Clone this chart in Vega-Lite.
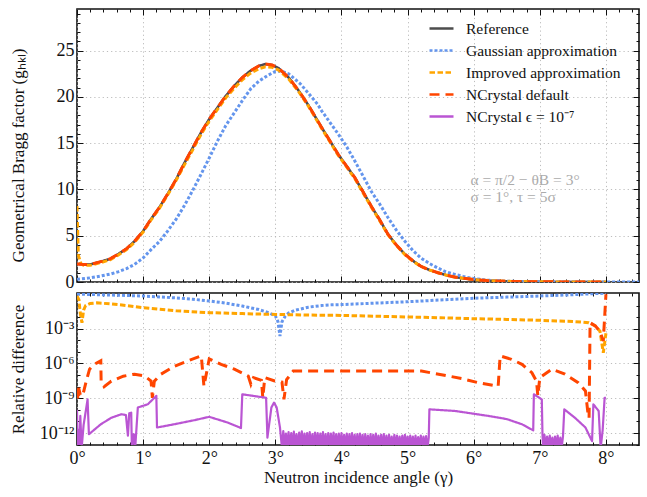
{
  "$schema": "https://vega.github.io/schema/vega-lite/v6.json",
  "padding": {"left": 8, "top": 7, "right": 9, "bottom": 4},
  "config": {
    "font": "Liberation Serif",
    "view": {"stroke": "#111", "strokeWidth": 1.6},
    "axis": {"domain": false, "labelFont": "Liberation Serif", "labelFontSize": 18, "labelColor": "#111", "titleFont": "Liberation Serif", "titleFontSize": 17, "titleFontWeight": "normal", "titleColor": "#111", "tickColor": "#111", "tickWidth": 1, "gridColor": "#b5b5b5", "gridDash": [1.2, 3], "gridWidth": 0.9, "labelFlush": false},
    "legend": {"orient": "none", "legendX": 351, "legendY": 6, "padding": 0, "symbolType": "stroke", "symbolSize": 576, "symbolStrokeWidth": 2.6, "labelFont": "Liberation Serif", "labelFontSize": 15.5, "labelColor": "#111", "labelOffset": 11, "rowPadding": -1.6, "labelLimit": 400}
  },
  "datasets": {
    "top_ref": [
      {"x":0,"g":1.95},{"x":0.1,"g":1.9},{"x":0.2,"g":1.9},{"x":0.36,"g":2.2},{"x":0.5,"g":2.5},{"x":0.62,"g":3.0},{"x":0.75,"g":3.6},{"x":0.87,"g":4.4},{"x":1.0,"g":5.5},{"x":1.12,"g":6.8},{"x":1.25,"g":8.1},{"x":1.37,"g":9.5},{"x":1.5,"g":11.1},{"x":1.62,"g":12.8},{"x":1.75,"g":14.5},{"x":1.88,"g":16.2},{"x":2.0,"g":17.6},{"x":2.13,"g":18.9},{"x":2.25,"g":20.1},{"x":2.38,"g":21.2},{"x":2.5,"g":22.1},{"x":2.62,"g":22.8},{"x":2.75,"g":23.35},{"x":2.85,"g":23.55},{"x":2.95,"g":23.45},{"x":3.05,"g":23.1},{"x":3.2,"g":22.1},{"x":3.35,"g":20.7},{"x":3.5,"g":19.1},{"x":3.6,"g":17.9},{"x":3.7,"g":16.7},{"x":3.83,"g":15.2},{"x":3.95,"g":13.8},{"x":4.08,"g":12.5},{"x":4.2,"g":11.3},{"x":4.33,"g":9.7},{"x":4.45,"g":8.2},{"x":4.58,"g":6.7},{"x":4.7,"g":5.2},{"x":4.83,"g":4.0},{"x":4.96,"g":3.0},{"x":5.08,"g":2.3},{"x":5.2,"g":1.7},{"x":5.33,"g":1.3},{"x":5.46,"g":1.0},{"x":5.58,"g":0.75},{"x":5.71,"g":0.54},{"x":5.84,"g":0.4},{"x":5.97,"g":0.29},{"x":6.2,"g":0.15},{"x":6.5,"g":0.07},{"x":7.0,"g":0.02},{"x":7.5,"g":0.005},{"x":8.0,"g":0.0}
    ],
    "top_imp": [
      {"x":0,"g":8.2},{"x":0.02,"g":2.9},{"x":0.06,"g":1.95},{"x":0.1,"g":1.8},{"x":0.2,"g":1.8},{"x":0.36,"g":2.1},{"x":0.5,"g":2.4},{"x":0.62,"g":2.9},{"x":0.75,"g":3.5},{"x":0.87,"g":4.3},{"x":1.0,"g":5.4},{"x":1.12,"g":6.7},{"x":1.25,"g":8.0},{"x":1.37,"g":9.4},{"x":1.5,"g":11.0},{"x":1.62,"g":12.6},{"x":1.75,"g":14.3},{"x":1.88,"g":16.0},{"x":2.0,"g":17.4},{"x":2.13,"g":18.7},{"x":2.25,"g":19.9},{"x":2.38,"g":20.95},{"x":2.5,"g":21.85},{"x":2.62,"g":22.55},{"x":2.75,"g":23.05},{"x":2.85,"g":23.25},{"x":2.95,"g":23.2},{"x":3.05,"g":22.9},{"x":3.2,"g":21.95},{"x":3.35,"g":20.6},{"x":3.5,"g":19.0},{"x":3.6,"g":17.8},{"x":3.7,"g":16.6},{"x":3.83,"g":15.1},{"x":3.95,"g":13.7},{"x":4.08,"g":12.4},{"x":4.2,"g":11.2},{"x":4.33,"g":9.6},{"x":4.45,"g":8.1},{"x":4.58,"g":6.6},{"x":4.7,"g":5.15},{"x":4.83,"g":3.95},{"x":4.96,"g":2.95},{"x":5.08,"g":2.25},{"x":5.2,"g":1.7},{"x":5.33,"g":1.3},{"x":5.46,"g":1.0},{"x":5.58,"g":0.75},{"x":5.71,"g":0.54},{"x":5.84,"g":0.4},{"x":5.97,"g":0.29},{"x":6.2,"g":0.15},{"x":6.5,"g":0.07},{"x":7.0,"g":0.02},{"x":7.5,"g":0.005},{"x":8.0,"g":0.0}
    ],
    "top_gau": [
      {"x":0,"g":0.29},{"x":0.2,"g":0.45},{"x":0.36,"g":0.65},{"x":0.5,"g":0.85},{"x":0.62,"g":1.1},{"x":0.75,"g":1.45},{"x":0.87,"g":1.9},{"x":1.0,"g":2.6},{"x":1.12,"g":3.5},{"x":1.25,"g":4.4},{"x":1.37,"g":5.5},{"x":1.5,"g":6.8},{"x":1.62,"g":8.2},{"x":1.75,"g":9.9},{"x":1.88,"g":11.7},{"x":2.0,"g":13.4},{"x":2.13,"g":15.3},{"x":2.25,"g":16.9},{"x":2.38,"g":18.3},{"x":2.5,"g":19.6},{"x":2.63,"g":20.9},{"x":2.75,"g":21.7},{"x":2.88,"g":22.3},{"x":3.0,"g":22.75},{"x":3.08,"g":22.8},{"x":3.2,"g":22.5},{"x":3.38,"g":21.4},{"x":3.5,"g":20.4},{"x":3.64,"g":19.2},{"x":3.7,"g":18.5},{"x":3.83,"g":17.2},{"x":3.95,"g":16.0},{"x":4.08,"g":14.6},{"x":4.2,"g":13.1},{"x":4.33,"g":11.4},{"x":4.45,"g":9.8},{"x":4.58,"g":8.4},{"x":4.7,"g":7.0},{"x":4.83,"g":5.6},{"x":4.96,"g":4.4},{"x":5.08,"g":3.4},{"x":5.2,"g":2.6},{"x":5.33,"g":2.0},{"x":5.46,"g":1.5},{"x":5.58,"g":1.1},{"x":5.71,"g":0.83},{"x":5.84,"g":0.6},{"x":5.97,"g":0.4},{"x":6.2,"g":0.2},{"x":6.5,"g":0.08},{"x":7.0,"g":0.02},{"x":7.5,"g":0.005},{"x":8.0,"g":0.001},{"x":8.5,"g":0.0}
    ],
    "bot_gau": [
      {"x":0,"d":0.95},{"x":0.25,"d":0.88},{"x":0.5,"d":0.8},{"x":0.75,"d":0.73},{"x":1.0,"d":0.66},{"x":1.25,"d":0.55},{"x":1.5,"d":0.45},{"x":1.75,"d":0.35},{"x":2.0,"d":0.25},{"x":2.25,"d":0.16},{"x":2.5,"d":0.09},{"x":2.75,"d":0.045},{"x":2.9,"d":0.024},{"x":3.0,"d":0.0126},{"x":3.04,"d":0.004},{"x":3.07,"d":0.00023},{"x":3.1,"d":0.004},{"x":3.15,"d":0.012},{"x":3.2,"d":0.022},{"x":3.3,"d":0.039},{"x":3.5,"d":0.072},{"x":3.7,"d":0.1},{"x":3.85,"d":0.115},{"x":4.0,"d":0.12},{"x":4.5,"d":0.16},{"x":5.0,"d":0.21},{"x":5.5,"d":0.3},{"x":6.0,"d":0.42},{"x":6.5,"d":0.53},{"x":7.0,"d":0.66},{"x":7.5,"d":0.85},{"x":7.8,"d":1.04},{"x":8.0,"d":1.15}
    ],
    "bot_imp": [
      {"x":0,"d":0.66},{"x":0.03,"d":0.3},{"x":0.05,"d":0.02},{"x":0.075,"d":0.0033},{"x":0.1,"d":0.04},{"x":0.13,"d":0.1},{"x":0.2,"d":0.15},{"x":0.3,"d":0.17},{"x":0.5,"d":0.14},{"x":0.75,"d":0.1},{"x":1.0,"d":0.065},{"x":1.5,"d":0.035},{"x":2.0,"d":0.024},{"x":2.5,"d":0.02},{"x":3.0,"d":0.017},{"x":3.5,"d":0.015},{"x":4.0,"d":0.014},{"x":4.5,"d":0.012},{"x":5.0,"d":0.0103},{"x":5.5,"d":0.0088},{"x":6.0,"d":0.0073},{"x":6.5,"d":0.0063},{"x":7.0,"d":0.0053},{"x":7.5,"d":0.0042},{"x":7.74,"d":0.0033},{"x":7.84,"d":0.0017},{"x":7.91,"d":0.0006},{"x":7.96,"d":0.0000085},{"x":8.0,"d":0.0004}
    ],
    "bot_ncd": [
      {"x":0,"d":5e-9},{"x":0.01,"d":1e-9},{"x":0.025,"d":8e-9},{"x":0.05,"d":2e-9},{"x":0.085,"d":1.6e-9},{"x":0.14,"d":3e-8},{"x":0.19,"d":3.2e-7},{"x":0.25,"d":8e-7},{"x":0.31,"d":1.2e-6},{"x":0.36,"d":1.7e-6},{"x":0.365,"d":3e-8},{"x":0.41,"d":1e-8},{"x":0.52,"d":3e-8},{"x":0.7,"d":8e-8},{"x":0.87,"d":1.2e-7},{"x":1.02,"d":8.3e-8},{"x":1.12,"d":3.1e-8},{"x":1.14,"d":1.1e-9},{"x":1.17,"d":3e-8},{"x":1.27,"d":1.2e-7},{"x":1.48,"d":6e-7},{"x":1.68,"d":1.7e-6},{"x":1.88,"d":4.5e-6},{"x":1.92,"d":1.1e-8},{"x":2.0,"d":2.5e-6},{"x":2.18,"d":8.5e-7},{"x":2.38,"d":3.2e-7},{"x":2.59,"d":8.3e-8},{"x":2.63,"d":1.6e-8},{"x":2.67,"d":6e-8},{"x":2.79,"d":3.5e-8},{"x":2.81,"d":1.1e-9},{"x":2.84,"d":6e-8},{"x":2.99,"d":3.1e-8},{"x":3.1,"d":2.5e-8},{"x":3.13,"d":8e-10},{"x":3.17,"d":4e-8},{"x":3.27,"d":2.2e-7},{"x":4.0,"d":2.2e-7},{"x":5.21,"d":2.2e-7},{"x":5.47,"d":1.2e-7},{"x":5.82,"d":5e-8},{"x":6.07,"d":2.2e-8},{"x":6.37,"d":1.1e-8},{"x":6.4,"d":4.5e-6},{"x":6.57,"d":2.3e-6},{"x":6.73,"d":8.5e-7},{"x":6.88,"d":1.6e-7},{"x":6.95,"d":3e-8},{"x":6.97,"d":1.6e-9},{"x":7.0,"d":6e-8},{"x":7.18,"d":3.2e-7},{"x":7.38,"d":1.2e-7},{"x":7.58,"d":2.2e-8},{"x":7.69,"d":4.3e-9},{"x":7.73,"d":4e-11},{"x":7.745,"d":2e-11},{"x":7.76,"d":3.3e-3},{"x":7.84,"d":1.7e-3},{"x":7.91,"d":6e-4},{"x":7.96,"d":8.7e-5},{"x":8.0,"d":0.93}
    ],
    "bot_eps": [
      {"x":0,"d":1e-10},{"x":0.01,"d":5e-14},{"x":0.02,"d":2e-12},{"x":0.035,"d":5e-14},{"x":0.05,"d":3e-11},{"x":0.07,"d":5e-14},{"x":0.1,"d":5e-12},{"x":0.16,"d":8e-10},{"x":0.18,"d":7.9e-13},{"x":0.36,"d":5.7e-12},{"x":0.52,"d":2.1e-11},{"x":0.67,"d":4.2e-11},{"x":0.74,"d":3.6e-11},{"x":0.77,"d":6e-13},{"x":0.79,"d":5e-11},{"x":0.82,"d":5.7e-11},{"x":0.83,"d":5e-14},{"x":0.86,"d":7.9e-13},{"x":0.88,"d":5e-14},{"x":0.92,"d":1.6e-10},{"x":1.07,"d":3e-10},{"x":1.2,"d":1.6e-9},{"x":1.21,"d":3e-12},{"x":1.47,"d":5.7e-12},{"x":1.78,"d":1.3e-11},{"x":2.0,"d":2.5e-11},{"x":2.28,"d":8e-12},{"x":2.48,"d":2.7e-12},{"x":2.5,"d":2.2e-9},{"x":2.86,"d":1.1e-9},{"x":2.88,"d":4e-13},{"x":2.9,"d":3e-12},{"x":2.94,"d":1.6e-10},{"x":2.98,"d":4.2e-10},{"x":3.02,"d":1.6e-10},{"x":3.07,"d":3e-12},{"x":3.1,"d":5e-14},
      {"x":3.12,"d":1.5e-12},{"x":3.14,"d":5e-14},{"x":3.16,"d":9e-13},{"x":3.18,"d":5e-14},{"x":3.2,"d":1.2e-12},{"x":3.22,"d":5e-14},{"x":3.24,"d":1e-12},{"x":3.26,"d":5e-14},{"x":3.28,"d":1.3e-12},{"x":3.3,"d":5e-14},{"x":3.32,"d":8e-13},{"x":3.34,"d":5e-14},{"x":3.36,"d":1.1e-12},{"x":3.38,"d":5e-14},{"x":3.4,"d":1.4e-12},{"x":3.42,"d":5e-14},{"x":3.44,"d":9e-13},{"x":3.46,"d":5e-14},{"x":3.48,"d":1e-12},{"x":3.5,"d":5e-14},{"x":3.52,"d":1.2e-12},{"x":3.54,"d":5e-14},{"x":3.56,"d":8e-13},{"x":3.58,"d":5e-14},{"x":3.6,"d":1.1e-12},{"x":3.62,"d":5e-14},{"x":3.64,"d":1e-12},{"x":3.66,"d":5e-14},{"x":3.68,"d":9e-13},{"x":3.7,"d":5e-14},{"x":3.72,"d":1.2e-12},{"x":3.74,"d":5e-14},{"x":3.76,"d":8e-13},{"x":3.78,"d":5e-14},{"x":3.8,"d":1e-12},{"x":3.82,"d":5e-14},{"x":3.84,"d":9e-13},{"x":3.86,"d":5e-14},{"x":3.88,"d":1.1e-12},{"x":3.9,"d":5e-14},{"x":3.92,"d":8e-13},{"x":3.94,"d":5e-14},{"x":3.96,"d":9e-13},{"x":3.98,"d":5e-14},{"x":4.0,"d":1e-12},{"x":4.02,"d":5e-14},{"x":4.04,"d":7e-13},{"x":4.06,"d":5e-14},{"x":4.08,"d":9e-13},{"x":4.1,"d":5e-14},{"x":4.12,"d":8e-13},{"x":4.14,"d":5e-14},{"x":4.16,"d":1e-12},{"x":4.18,"d":5e-14},{"x":4.2,"d":7e-13},{"x":4.22,"d":5e-14},{"x":4.24,"d":8e-13},{"x":4.26,"d":5e-14},{"x":4.28,"d":9e-13},{"x":4.3,"d":5e-14},{"x":4.32,"d":7e-13},{"x":4.34,"d":5e-14},{"x":4.36,"d":8e-13},{"x":4.38,"d":5e-14},{"x":4.4,"d":6e-13},{"x":4.42,"d":5e-14},{"x":4.44,"d":8e-13},{"x":4.46,"d":5e-14},{"x":4.48,"d":7e-13},{"x":4.5,"d":5e-14},{"x":4.52,"d":9e-13},{"x":4.54,"d":5e-14},{"x":4.56,"d":6e-13},{"x":4.58,"d":5e-14},{"x":4.6,"d":7e-13},{"x":4.62,"d":5e-14},{"x":4.64,"d":8e-13},{"x":4.66,"d":5e-14},{"x":4.68,"d":6e-13},{"x":4.7,"d":5e-14},{"x":4.72,"d":7e-13},{"x":4.74,"d":5e-14},{"x":4.76,"d":5e-13},{"x":4.78,"d":5e-14},{"x":4.8,"d":7e-13},{"x":4.82,"d":5e-14},{"x":4.84,"d":6e-13},{"x":4.86,"d":5e-14},{"x":4.88,"d":5e-13},{"x":4.9,"d":5e-14},{"x":4.92,"d":6e-13},{"x":4.94,"d":5e-14},{"x":4.96,"d":7e-13},{"x":4.98,"d":5e-14},{"x":5.0,"d":5e-13},{"x":5.02,"d":5e-14},{"x":5.04,"d":6e-13},{"x":5.06,"d":5e-14},{"x":5.08,"d":5e-13},{"x":5.1,"d":5e-14},{"x":5.12,"d":6e-13},{"x":5.14,"d":5e-14},{"x":5.16,"d":4.5e-13},{"x":5.18,"d":5e-14},{"x":5.2,"d":6e-13},{"x":5.22,"d":5e-14},{"x":5.24,"d":5e-13},{"x":5.26,"d":5e-14},{"x":5.28,"d":5.5e-13},{"x":5.3,"d":5e-14},{"x":5.32,"d":4e-13},
      {"x":5.33,"d":1.1e-10},{"x":5.72,"d":8e-11},{"x":6.22,"d":3e-11},{"x":6.5,"d":1.6e-11},{"x":6.73,"d":5.7e-12},{"x":6.9,"d":1.7e-12},{"x":6.91,"d":2.2e-9},{"x":7.03,"d":8e-10},{"x":7.04,"d":7.9e-13},{"x":7.05,"d":5e-14},{"x":7.07,"d":7e-13},{"x":7.09,"d":5e-14},{"x":7.11,"d":5e-13},{"x":7.13,"d":5e-14},{"x":7.15,"d":6e-13},{"x":7.17,"d":5e-14},{"x":7.19,"d":4e-13},{"x":7.21,"d":5e-14},{"x":7.23,"d":5e-13},{"x":7.25,"d":5e-14},{"x":7.27,"d":6e-13},{"x":7.29,"d":5e-14},{"x":7.31,"d":4e-13},{"x":7.33,"d":5e-14},{"x":7.35,"d":5e-13},{"x":7.37,"d":1.1e-10},{"x":7.53,"d":2.1e-11},{"x":7.69,"d":3e-12},{"x":7.79,"d":2e-13},{"x":7.81,"d":3e-10},{"x":7.89,"d":8e-11},{"x":7.92,"d":5e-14},{"x":7.95,"d":1.7e-12},{"x":7.98,"d":1.1e-9},{"x":8.0,"d":1.1e-9}
    ]
  },
  "resolve": {"scale": {"color": "independent", "strokeDash": "independent"}},
  "bounds": "flush",
  "spacing": 11,
  "vconcat": [
    {
      "width": 562,
      "height": 273,
      "resolve": {"axis": {"x": "independent", "y": "independent"}},
      "layer": [
        {
          "data": {"name": "top_ref"},
          "mark": {"type": "line", "clip": true, "strokeWidth": 2.2},
          "encoding": {
            "x": {"field": "x", "type": "quantitative", "scale": {"domain": [0, 8.5], "nice": false, "zero": false}, "axis": {"orient": "bottom", "values": [0,1,2,3,4,5,6,7,8], "labels": false, "grid": true, "tickSize": -6, "title": null}},
            "y": {"field": "g", "type": "quantitative", "scale": {"domain": [0, 29.5], "nice": false, "zero": false}, "axis": {"orient": "left", "values": [0,5,10,15,20,25], "grid": true, "tickSize": -6, "labelPadding": 9, "title": "Geometrical Bragg factor (gₕₖₗ)", "titleX": -59, "titleY": 146, "titleAngle": 270, "titleBaseline": "middle", "titleAlign": "center"}},
            "color": {"datum": "NCrystal ϵ = 10⁻⁷", "scale": {"domain": ["Reference", "Gaussian approximation", "Improved approximation", "NCrystal default", "NCrystal ϵ = 10⁻⁷"], "range": ["#4d4d4d", "#6495ed", "#ffa500", "#ff4500", "#ba55d3"]}, "legend": {"title": null}},
            "strokeDash": {"datum": "NCrystal ϵ = 10⁻⁷", "scale": {"domain": ["Reference", "Gaussian approximation", "Improved approximation", "NCrystal default", "NCrystal ϵ = 10⁻⁷"], "range": [[1, 0], [3, 2], [5.5, 2.5], [10, 6], [1, 0]]}, "legend": {"title": null}}
          }
        },
        {
          "data": {"name": "top_ref"},
          "mark": {"type": "line", "clip": true, "strokeWidth": 2.5},
          "encoding": {
            "x": {"field": "x", "type": "quantitative", "scale": {"domain": [0, 8.5], "nice": false, "zero": false}, "axis": {"orient": "top", "values": [0,1,2,3,4,5,6,7,8], "labels": false, "grid": false, "tickSize": -6, "title": null}},
            "y": {"field": "g", "type": "quantitative", "scale": {"domain": [0, 29.5], "nice": false, "zero": false}, "axis": {"orient": "right", "values": [0,5,10,15,20,25], "labels": false, "grid": false, "tickSize": -6, "title": null}},
            "color": {"datum": "Reference"},
            "strokeDash": {"datum": "Reference"}
          }
        },
        {
          "data": {"name": "top_gau"},
          "mark": {"type": "line", "clip": true, "strokeWidth": 3},
          "encoding": {
            "x": {"field": "x", "type": "quantitative", "scale": {"domain": [0, 8.5], "nice": false, "zero": false}, "axis": {"orient": "bottom", "values": [0.2,0.4,0.6,0.8,1.2,1.4,1.6,1.8,2.2,2.4,2.6,2.8,3.2,3.4,3.6,3.8,4.2,4.4,4.6,4.8,5.2,5.4,5.6,5.8,6.2,6.4,6.6,6.8,7.2,7.4,7.6,7.8,8.2,8.4], "labels": false, "grid": false, "tickSize": -3, "title": null}},
            "y": {"field": "g", "type": "quantitative", "scale": {"domain": [0, 29.5], "nice": false, "zero": false}, "axis": {"orient": "left", "values": [1,2,3,4,6,7,8,9,11,12,13,14,16,17,18,19,21,22,23,24,26,27,28,29], "labels": false, "grid": false, "tickSize": -3, "title": null}},
            "color": {"datum": "Gaussian approximation"},
            "strokeDash": {"datum": "Gaussian approximation"}
          }
        },
        {
          "data": {"name": "top_imp"},
          "mark": {"type": "line", "clip": true, "strokeWidth": 3},
          "encoding": {
            "x": {"field": "x", "type": "quantitative", "scale": {"domain": [0, 8.5], "nice": false, "zero": false}, "axis": {"orient": "top", "values": [0.2,0.4,0.6,0.8,1.2,1.4,1.6,1.8,2.2,2.4,2.6,2.8,3.2,3.4,3.6,3.8,4.2,4.4,4.6,4.8,5.2,5.4,5.6,5.8,6.2,6.4,6.6,6.8,7.2,7.4,7.6,7.8,8.2,8.4], "labels": false, "grid": false, "tickSize": -3, "title": null}},
            "y": {"field": "g", "type": "quantitative", "scale": {"domain": [0, 29.5], "nice": false, "zero": false}, "axis": {"orient": "right", "values": [1,2,3,4,6,7,8,9,11,12,13,14,16,17,18,19,21,22,23,24,26,27,28,29], "labels": false, "grid": false, "tickSize": -3, "title": null}},
            "color": {"datum": "Improved approximation"},
            "strokeDash": {"datum": "Improved approximation"}
          }
        },
        {
          "data": {"name": "top_ref"},
          "mark": {"type": "line", "clip": true, "strokeWidth": 3},
          "encoding": {
            "x": {"field": "x", "type": "quantitative", "scale": {"domain": [0, 8.5], "nice": false, "zero": false}, "axis": null},
            "y": {"field": "g", "type": "quantitative", "scale": {"domain": [0, 29.5], "nice": false, "zero": false}, "axis": null},
            "color": {"datum": "NCrystal default"},
            "strokeDash": {"datum": "NCrystal default"}
          }
        },
        {
          "data": {"values": [{"x": 5.95, "y": 11.0, "t": "α = π/2 − θB = 3°"}, {"x": 5.95, "y": 9.23, "t": "σ = 1°, τ = 5σ"}]},
          "mark": {"type": "text", "align": "left", "baseline": "middle", "fontSize": 15.5, "font": "Liberation Serif", "color": "#ababab"},
          "encoding": {
            "x": {"field": "x", "type": "quantitative", "scale": {"domain": [0, 8.5], "nice": false, "zero": false}, "axis": null},
            "y": {"field": "y", "type": "quantitative", "scale": {"domain": [0, 29.5], "nice": false, "zero": false}, "axis": null},
            "text": {"field": "t"}
          }
        }
      ]
    },
    {
      "width": 562,
      "height": 152,
      "resolve": {"axis": {"x": "independent", "y": "independent"}},
      "layer": [
        {
          "data": {"name": "bot_gau"},
          "mark": {"type": "line", "clip": true, "strokeWidth": 3},
          "encoding": {
            "x": {"field": "x", "type": "quantitative", "scale": {"domain": [0, 8.5], "nice": false, "zero": false}, "axis": {"orient": "bottom", "values": [0,1,2,3,4,5,6,7,8], "labelExpr": "datum.value + '°'", "grid": true, "tickSize": -6, "labelPadding": 10, "title": "Neutron incidence angle (γ)", "titlePadding": 2}},
            "y": {"field": "d", "type": "quantitative", "scale": {"type": "log", "domain": [9.3e-14, 1.2], "nice": false}, "axis": {"orient": "left", "values": [0.001, 1e-6, 1e-9, 1e-12], "labelExpr": "datum.value < 1e-11 ? '10⁻¹²' : datum.value < 1e-8 ? '10⁻⁹' : datum.value < 1e-5 ? '10⁻⁶' : '10⁻³'", "grid": true, "tickSize": -6, "labelPadding": 9, "title": "Relative difference", "titleX": -59, "titleY": 76, "titleAngle": 270, "titleBaseline": "middle", "titleAlign": "center"}},
            "color": {"datum": "Gaussian approximation", "scale": {"domain": ["Reference", "Gaussian approximation", "Improved approximation", "NCrystal default", "NCrystal ϵ = 10⁻⁷"], "range": ["#4d4d4d", "#6495ed", "#ffa500", "#ff4500", "#ba55d3"]}, "legend": null},
            "strokeDash": {"datum": "Gaussian approximation", "scale": {"domain": ["Reference", "Gaussian approximation", "Improved approximation", "NCrystal default", "NCrystal ϵ = 10⁻⁷"], "range": [[1, 0], [3, 2], [5.5, 2.5], [10, 6], [1, 0]]}, "legend": null}
          }
        },
        {
          "data": {"name": "bot_imp"},
          "mark": {"type": "line", "clip": true, "strokeWidth": 3},
          "encoding": {
            "x": {"field": "x", "type": "quantitative", "scale": {"domain": [0, 8.5], "nice": false, "zero": false}, "axis": {"orient": "top", "values": [0,1,2,3,4,5,6,7,8], "labels": false, "grid": false, "tickSize": -6, "title": null}},
            "y": {"field": "d", "type": "quantitative", "scale": {"type": "log", "domain": [9.3e-14, 1.2], "nice": false}, "axis": {"orient": "right", "values": [0.001, 1e-6, 1e-9, 1e-12], "labels": false, "grid": false, "tickSize": -6, "title": null}},
            "color": {"datum": "Improved approximation", "legend": null},
            "strokeDash": {"datum": "Improved approximation", "legend": null}
          }
        },
        {
          "data": {"name": "bot_ncd"},
          "mark": {"type": "line", "clip": true, "strokeWidth": 3},
          "encoding": {
            "x": {"field": "x", "type": "quantitative", "scale": {"domain": [0, 8.5], "nice": false, "zero": false}, "axis": {"orient": "bottom", "values": [0.2,0.4,0.6,0.8,1.2,1.4,1.6,1.8,2.2,2.4,2.6,2.8,3.2,3.4,3.6,3.8,4.2,4.4,4.6,4.8,5.2,5.4,5.6,5.8,6.2,6.4,6.6,6.8,7.2,7.4,7.6,7.8,8.2,8.4], "labels": false, "grid": false, "tickSize": -3, "title": null}},
            "y": {"field": "d", "type": "quantitative", "scale": {"type": "log", "domain": [9.3e-14, 1.2], "nice": false}, "axis": {"orient": "left", "values": [0.1, 0.01, 0.0001, 0.00001, 1e-7, 1e-8, 1e-10, 1e-11, 1e-13], "labels": false, "grid": false, "tickSize": -3, "title": null}},
            "color": {"datum": "NCrystal default", "legend": null},
            "strokeDash": {"datum": "NCrystal default", "legend": null}
          }
        },
        {
          "data": {"name": "bot_eps"},
          "mark": {"type": "line", "clip": true, "strokeWidth": 2.2, "strokeJoin": "round"},
          "encoding": {
            "x": {"field": "x", "type": "quantitative", "scale": {"domain": [0, 8.5], "nice": false, "zero": false}, "axis": {"orient": "top", "values": [0.2,0.4,0.6,0.8,1.2,1.4,1.6,1.8,2.2,2.4,2.6,2.8,3.2,3.4,3.6,3.8,4.2,4.4,4.6,4.8,5.2,5.4,5.6,5.8,6.2,6.4,6.6,6.8,7.2,7.4,7.6,7.8,8.2,8.4], "labels": false, "grid": false, "tickSize": -3, "title": null}},
            "y": {"field": "d", "type": "quantitative", "scale": {"type": "log", "domain": [9.3e-14, 1.2], "nice": false}, "axis": {"orient": "right", "values": [0.1, 0.01, 0.0001, 0.00001, 1e-7, 1e-8, 1e-10, 1e-11, 1e-13], "labels": false, "grid": false, "tickSize": -3, "title": null}},
            "color": {"datum": "NCrystal ϵ = 10⁻⁷", "legend": null},
            "strokeDash": {"datum": "NCrystal ϵ = 10⁻⁷", "legend": null}
          }
        }
      ]
    }
  ]
}
